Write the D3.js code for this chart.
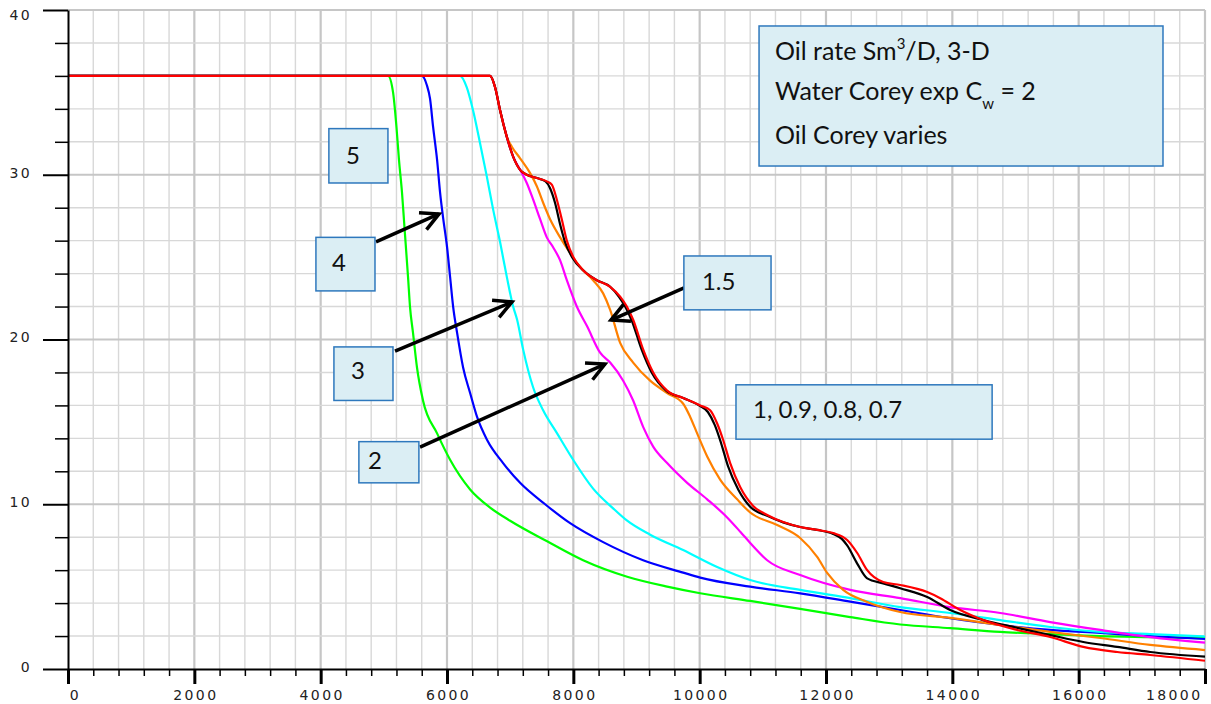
<!DOCTYPE html>
<html>
<head>
<meta charset="utf-8">
<script src="https://cdn.jsdelivr.net/npm/d3@7"></script>
<style>
  body { margin: 0; background: #fff; }
  svg { display: block; }
</style>
</head>
<body>
<div id="chart"></div>
<script>
// oil rate (Sm3/D) vs time, one curve per oil Corey exponent
var xTickValues = d3.range(0, 18001, 400);   // labelled every 2000
var yTickValues = d3.range(0, 41, 2);        // labelled every 10

var curve5 = [[0,36],[5067,36],[5146,35.0],[5200,32.9],[5240,30.9],[5288,28.9],[5327,26.8],[5383,23.8],[5414,22.0],[5462,20.4],[5525,18.3],[5620,16.3],[5843,14.3],[6049,12.7],[6366,10.9],[6682,9.8],[6999,9.0],[7585,7.75],[8155,6.6],[8852,5.6],[9485,5.0],[10008,4.6],[10800,4.13],[11591,3.65],[12383,3.15],[13175,2.7],[13966,2.48],[14758,2.25],[15550,2.12],[16342,2.0],[17133,1.94],[18000,1.88]];
var curve4 = [[0,36],[5601,36],[5680,35.45],[5732,34.6],[5780,32.9],[5843,30.9],[5891,28.9],[5938,27.4],[6001,25.6],[6049,23.8],[6097,22.0],[6160,20.4],[6255,18.3],[6366,16.75],[6476,15.3],[6635,13.9],[6888,12.5],[7157,11.3],[7553,10.0],[7949,8.85],[8472,7.7],[9105,6.6],[9739,5.85],[10008,5.55],[10800,5.0],[11591,4.59],[12383,4.09],[13175,3.58],[13966,3.08],[14758,2.67],[15550,2.37],[16342,2.19],[17133,2.0],[18000,1.82]];
var curve3 = [[0,36],[6207,36],[6313,35.3],[6413,33.9],[6524,31.9],[6630,29.9],[6730,27.9],[6841,25.9],[6947,23.8],[7047,22.0],[7110,21.2],[7205,19.4],[7363,17.1],[7522,15.7],[7743,14.3],[7997,12.7],[8313,10.95],[8630,9.75],[8852,9.0],[9216,8.15],[9739,7.22],[10277,6.19],[10800,5.4],[11591,4.8],[12383,4.3],[13175,3.76],[13966,3.4],[14758,2.97],[15550,2.55],[16342,2.25],[17133,2.12],[18000,1.97]];
var curve2 = [[0,36],[6682,36],[6762,35.3],[6841,33.9],[6947,32.3],[7047,31.1],[7157,30.3],[7263,29.5],[7363,28.5],[7474,27.3],[7580,26.2],[7680,25.6],[7791,24.8],[7897,23.6],[8055,22.0],[8218,20.8],[8424,19.2],[8583,18.6],[8789,17.5],[8947,16.3],[9105,14.7],[9264,13.5],[9485,12.5],[9802,11.3],[10119,10.3],[10435,9.2],[10650,8.3],[10800,7.65],[11069,6.6],[11591,5.7],[12383,4.8],[13175,4.3],[13966,3.76],[14758,3.4],[15550,2.85],[16342,2.37],[17133,1.94],[18000,1.6]];
var curve15 = [[0,36],[6682,36],[6762,35.3],[6841,33.9],[6947,32.3],[7026,31.7],[7157,31.0],[7316,30.1],[7422,29.3],[7522,28.3],[7632,27.3],[7791,26.2],[7949,25.25],[8107,24.4],[8313,23.6],[8472,22.8],[8583,21.8],[8741,19.8],[8947,18.6],[9216,17.5],[9485,16.75],[9739,16.1],[9850,15.3],[9960,14.3],[10119,12.9],[10324,11.5],[10594,10.3],[10800,9.5],[11227,8.74],[11591,7.95],[11860,6.8],[12018,5.83],[12272,4.8],[12652,4.07],[13175,3.46],[13966,3.1],[14758,2.67],[15550,2.25],[16342,1.88],[17133,1.46],[18000,1.15]];
var curve09 = [[0,36],[6682,36],[6762,35.3],[6841,33.9],[6947,32.3],[7047,31.1],[7157,30.3],[7263,30.0],[7422,29.8],[7560,29.6],[7630,29.2],[7710,28.3],[7790,27.0],[7870,25.9],[7980,25.0],[8155,24.2],[8371,23.6],[8583,23.2],[8720,22.6],[8820,22.0],[8920,21.2],[9080,19.4],[9240,18.0],[9470,16.9],[9739,16.45],[9990,16.0],[10130,15.6],[10240,14.8],[10340,13.7],[10450,12.3],[10610,10.9],[10800,9.85],[11069,9.3],[11322,8.9],[11591,8.62],[11860,8.44],[12114,8.2],[12250,7.9],[12335,7.5],[12494,6.4],[12652,5.5],[12906,5.2],[13175,4.9],[13602,4.37],[13966,3.58],[14489,2.97],[15027,2.5],[15550,2.06],[16073,1.64],[16610,1.34],[17133,1.03],[18000,0.75]];
var curve1 = [[0,36],[6682,36],[6762,35.3],[6841,33.9],[6947,32.3],[7047,31.1],[7157,30.3],[7263,30.0],[7422,29.8],[7580,29.6],[7659,29.4],[7738,28.5],[7817,27.3],[7897,26.0],[8000,25.0],[8155,24.2],[8371,23.6],[8583,23.2],[8741,22.6],[8847,22.0],[8947,21.2],[9105,19.4],[9264,18.0],[9485,16.9],[9739,16.45],[10008,16.0],[10166,15.7],[10277,14.9],[10372,13.9],[10483,12.5],[10641,11.05],[10847,9.9],[11069,9.35],[11322,8.92],[11591,8.62],[11860,8.44],[12114,8.25],[12335,7.83],[12494,7.04],[12652,6.0],[12906,5.28],[13175,5.1],[13602,4.67],[13808,4.3],[14125,3.58],[14489,2.97],[15027,2.37],[15550,1.94],[16073,1.34],[16610,1.03],[17133,0.85],[18000,0.5]];

var series = [
  { data: curve5,  color: "#00ff00" },
  { data: curve4,  color: "#0000ff" },
  { data: curve3,  color: "#00ffff" },
  { data: curve2,  color: "#ff00ff" },
  { data: curve15, color: "#ff8000" },
  { data: curve09, color: "#000000" },
  { data: curve1,  color: "#ff0000" }
];

// annotation boxes and arrows, in data units
var boxes = [
  { text: "5",   x0: 4130,  x1: 5065,  y0: 32.8,  y1: 29.5,  dx: 17, dy: 35 },
  { text: "4",   x0: 3925,  x1: 4860,  y0: 26.2,  y1: 22.95, dx: 16, dy: 34 },
  { text: "3",   x0: 4210,  x1: 5145,  y0: 19.55, y1: 16.3,  dx: 17, dy: 32 },
  { text: "2",   x0: 4605,  x1: 5555,  y0: 13.8,  y1: 11.3,  dx: 9,  dy: 27 },
  { text: "1.5", x0: 9750,  x1: 11130, y0: 25.07, y1: 21.8,  dx: 18, dy: 34 },
  { text: "1, 0.9, 0.8, 0.7", x0: 10575, x1: 14630, y0: 17.25, y1: 13.95, dx: 17, dy: 33 }
];
var titleBox = { x0: 10940, x1: 17335, y0: 39.03, y1: 30.53 };
var arrows = [
  { from: [4876, 25.92], to: [5873, 27.62] },
  { from: [5177, 19.3],  to: [7029, 22.28] },
  { from: [5573, 13.47], to: [8501, 18.51] },
  { from: [9752, 23.13], to: [8596, 21.18] }
];

var margin = { top: 10, right: 6, bottom: 35, left: 68 },
    width = 1211 - margin.left - margin.right,
    height = 704 - margin.top - margin.bottom;

var svg = d3.select("#chart").append("svg").attr("width", 1211).attr("height", 704);
var g = svg.append("g").attr("transform", "translate(" + margin.left + "," + margin.top + ")");

var x = d3.scaleLinear().domain([0, 18000]).range([0, width]);
var y = d3.scaleLinear().domain([0, 40]).range([height, 0]);

// grid
g.append("g").selectAll("line").data(xTickValues.slice(1)).enter().append("line")
  .attr("x1", function (d) { return x(d); }).attr("x2", function (d) { return x(d); })
  .attr("y1", 0).attr("y2", height)
  .attr("stroke", function (d) { return d % 2000 === 0 ? "#c6c6c6" : "#d8d8d8"; })
  .attr("stroke-width", function (d) { return d % 2000 === 0 ? 2.2 : 1.4; });
g.append("g").selectAll("line").data(yTickValues.slice(1)).enter().append("line")
  .attr("x1", 0).attr("x2", width)
  .attr("y1", function (d) { return y(d); }).attr("y2", function (d) { return y(d); })
  .attr("stroke", function (d) { return d % 10 === 0 ? "#c6c6c6" : "#d8d8d8"; })
  .attr("stroke-width", function (d) { return d % 10 === 0 ? 2.2 : 1.4; });

// curves
var line = d3.line()
  .x(function (d) { return x(d[0]); })
  .y(function (d) { return y(d[1]); })
  .curve(d3.curveMonotoneX);
g.append("g").selectAll("path").data(series).enter().append("path")
  .attr("d", function (s) { return line(s.data); })
  .attr("fill", "none")
  .attr("stroke", function (s) { return s.color; })
  .attr("stroke-width", 2.2);

// axes
var tickFont = "DejaVu Sans, sans-serif";
var yAx = g.append("g")
  .call(d3.axisLeft(y).tickValues(yTickValues).tickSizeOuter(0)
    .tickFormat(function (d) { return d % 10 === 0 ? d : ""; }));
yAx.select(".domain").attr("stroke", "#000").attr("stroke-width", 2);
yAx.selectAll(".tick line")
  .attr("x2", function (d) { return d % 10 === 0 ? -25 : -13; })
  .attr("stroke", "#000")
  .attr("stroke-width", function (d) { return d % 10 === 0 ? 2 : 1.5; });
yAx.selectAll(".tick text")
  .attr("x", -36).attr("y", function (d) { return d === 40 ? 5 : -2; })
  .attr("fill", "#222").style("font-family", tickFont).style("font-size", "14px")
  .style("letter-spacing", "2.4px");

var xAx = g.append("g").attr("transform", "translate(0," + height + ")")
  .call(d3.axisBottom(x).tickValues(xTickValues).tickSizeOuter(0)
    .tickFormat(function (d) { return d % 2000 === 0 ? d : ""; }));
xAx.select(".domain").attr("stroke", "#000").attr("stroke-width", 2);
xAx.selectAll(".tick line")
  .attr("y2", function (d) { return d % 2000 === 0 ? 15 : 7; })
  .attr("stroke", "#000")
  .attr("stroke-width", function (d) { return d % 2000 === 0 ? 3 : 1.5; });
xAx.selectAll(".tick text")
  .attr("y", 31).attr("dy", 0)
  .attr("x", function (d) { return d === 0 ? 7 : (d === 18000 ? -3 : 1); })
  .attr("text-anchor", function (d) { return d === 18000 ? "end" : "middle"; })
  .attr("fill", "#222").style("font-family", tickFont).style("font-size", "14px")
  .style("letter-spacing", "2.4px");

// annotations
var noteFont = "Lato, 'Open Sans', sans-serif";
var noteSize = "25px";
var boxFill = "#dbeef4", boxStroke = "#2e78bd";

var arrowG = g.append("g");
arrows.forEach(function (a) {
  var x1 = x(a.from[0]), y1 = y(a.from[1]), x2 = x(a.to[0]), y2 = y(a.to[1]);
  var ang = Math.atan2(y1 - y2, x1 - x2), L = 20, spread = 0.48;
  arrowG.append("line").attr("x1", x1).attr("y1", y1).attr("x2", x2).attr("y2", y2)
    .attr("stroke", "#000").attr("stroke-width", 3.5);
  arrowG.append("path")
    .attr("d", "M" + (x2 + L * Math.cos(ang + spread)) + "," + (y2 + L * Math.sin(ang + spread)) +
      "L" + x2 + "," + y2 +
      "L" + (x2 + L * Math.cos(ang - spread)) + "," + (y2 + L * Math.sin(ang - spread)))
    .attr("fill", "none").attr("stroke", "#000").attr("stroke-width", 3.5)
    .attr("stroke-linejoin", "miter");
});

var boxG = g.append("g").selectAll("g").data(boxes).enter().append("g");
boxG.append("rect")
  .attr("x", function (d) { return x(d.x0); }).attr("y", function (d) { return y(d.y0); })
  .attr("width", function (d) { return x(d.x1) - x(d.x0); })
  .attr("height", function (d) { return y(d.y1) - y(d.y0); })
  .attr("fill", boxFill).attr("stroke", boxStroke).attr("stroke-width", 1.5);
boxG.append("text")
  .attr("x", function (d) { return x(d.x0) + d.dx; })
  .attr("y", function (d) { return y(d.y0) + d.dy; })
  .style("font-family", noteFont).style("font-size", "24px").attr("fill", "#111")
  .text(function (d) { return d.text; });

var tb = g.append("g");
tb.append("rect")
  .attr("x", x(titleBox.x0)).attr("y", y(titleBox.y0))
  .attr("width", x(titleBox.x1) - x(titleBox.x0)).attr("height", y(titleBox.y1) - y(titleBox.y0))
  .attr("fill", boxFill).attr("stroke", boxStroke).attr("stroke-width", 1.5);
var tx = x(titleBox.x0) + 16, ty = y(titleBox.y0);
var t1 = tb.append("text").attr("x", tx).attr("y", ty + 34)
  .style("font-family", noteFont).style("font-size", noteSize).attr("fill", "#111");
t1.append("tspan").text("Oil rate Sm");
t1.append("tspan").attr("dy", -11).style("font-size", "15px").text("3");
t1.append("tspan").attr("dy", 11).text("/D, 3-D");
var t2 = tb.append("text").attr("x", tx).attr("y", ty + 74)
  .style("font-family", noteFont).style("font-size", noteSize).attr("fill", "#111");
t2.append("tspan").text("Water Corey exp C");
t2.append("tspan").attr("dy", 9).style("font-size", "15px").text("w");
t2.append("tspan").attr("dy", -9).text(" = 2");
tb.append("text").attr("x", tx).attr("y", ty + 118)
  .style("font-family", noteFont).style("font-size", noteSize).attr("fill", "#111")
  .text("Oil Corey varies");
</script>
</body>
</html>
